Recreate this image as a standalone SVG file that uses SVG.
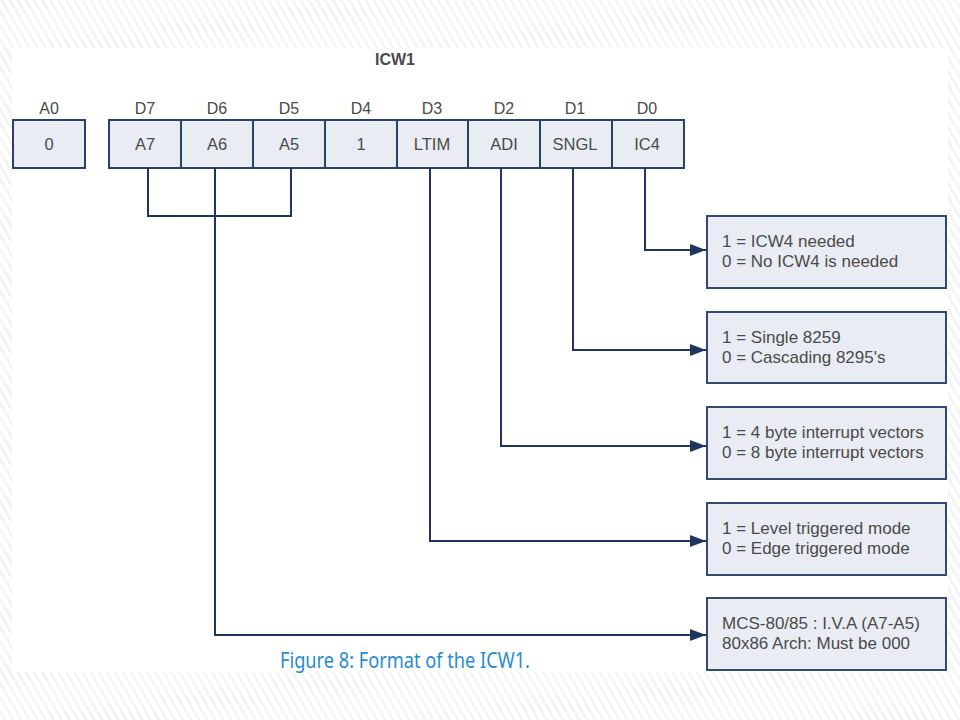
<svg xmlns="http://www.w3.org/2000/svg" width="960" height="720" viewBox="0 0 960 720">
<defs>
<pattern id="hatch" width="7" height="7" patternUnits="userSpaceOnUse" patternTransform="rotate(-30)">
<rect width="7" height="7" fill="#ffffff"/>
<rect width="3" height="7" fill="#f4f4f4"/>
</pattern>
<marker id="arr" markerWidth="16" markerHeight="12" refX="16" refY="6" orient="auto" markerUnits="userSpaceOnUse">
<path d="M0,0 L16,6 L0,12 Z" fill="#1f3560"/>
</marker>
<style>
.cell{fill:#e9edf3;stroke:#2b4066;stroke-width:2}
.box{fill:#e9edf3;stroke:#34496d;stroke-width:2}
.t{font-family:"Liberation Sans",Arial,sans-serif;fill:#4a4a4a}
.ct{font-size:16.5px;text-anchor:middle}
.bt{font-size:17px}
.hd{font-size:16px;text-anchor:middle}
.ln{fill:none;stroke:#1f3560;stroke-width:2}
</style>
</defs>
<rect width="960" height="720" fill="url(#hatch)"/>
<rect x="12" y="48" width="936" height="624" fill="#ffffff"/>

<text x="395" y="65" class="t" font-size="16" font-weight="bold" text-anchor="middle" fill="#333333">ICW1</text>

<g id="cell-a0">
<text x="49" y="114" class="t hd">A0</text>
<rect x="13" y="120" width="72" height="48" class="cell"/>
<text x="49" y="150" class="t ct">0</text>
</g>
<g id="cell-d7">
<text x="145" y="114" class="t hd">D7</text>
<rect x="109" y="120" width="72" height="48" class="cell"/>
<text x="145" y="150" class="t ct">A7</text>
</g>
<g id="cell-d6">
<text x="217" y="114" class="t hd">D6</text>
<rect x="181" y="120" width="72" height="48" class="cell"/>
<text x="217" y="150" class="t ct">A6</text>
</g>
<g id="cell-d5">
<text x="289" y="114" class="t hd">D5</text>
<rect x="253" y="120" width="72" height="48" class="cell"/>
<text x="289" y="150" class="t ct">A5</text>
</g>
<g id="cell-d4">
<text x="361" y="114" class="t hd">D4</text>
<rect x="325" y="120" width="72" height="48" class="cell"/>
<text x="361" y="150" class="t ct">1</text>
</g>
<g id="cell-d3">
<text x="432" y="114" class="t hd">D3</text>
<rect x="397" y="120" width="71" height="48" class="cell"/>
<text x="432" y="150" class="t ct">LTIM</text>
</g>
<g id="cell-d2">
<text x="504" y="114" class="t hd">D2</text>
<rect x="468" y="120" width="72" height="48" class="cell"/>
<text x="504" y="150" class="t ct">ADI</text>
</g>
<g id="cell-d1">
<text x="575" y="114" class="t hd">D1</text>
<rect x="540" y="120" width="72" height="48" class="cell"/>
<text x="575" y="150" class="t ct">SNGL</text>
</g>
<g id="cell-d0">
<text x="647" y="114" class="t hd">D0</text>
<rect x="612" y="120" width="72" height="48" class="cell"/>
<text x="647" y="150" class="t ct">IC4</text>
</g>

<g id="connectors">
<path d="M148,168 V216 H291 V168" class="ln"/>
<path d="M215,168 V635 H706" class="ln" marker-end="url(#arr)"/>
<path d="M430,168 V541 H706" class="ln" marker-end="url(#arr)"/>
<path d="M501,168 V446 H706" class="ln" marker-end="url(#arr)"/>
<path d="M573,168 V350 H706" class="ln" marker-end="url(#arr)"/>
<path d="M645,168 V250 H706" class="ln" marker-end="url(#arr)"/>
</g>

<g id="box-ic4">
<rect x="707" y="216" width="239" height="72" class="box"/>
<text x="722" y="247" class="t bt">1 = ICW4 needed</text>
<text x="722" y="267" class="t bt">0 = No ICW4 is needed</text>
</g>
<g id="box-sngl">
<rect x="707" y="312" width="239" height="71" class="box"/>
<text x="722" y="343" class="t bt">1 = Single 8259</text>
<text x="722" y="363" class="t bt">0 = Cascading 8295's</text>
</g>
<g id="box-adi">
<rect x="707" y="407" width="239" height="72" class="box"/>
<text x="722" y="438" class="t bt">1 = 4 byte interrupt vectors</text>
<text x="722" y="458" class="t bt">0 = 8 byte interrupt vectors</text>
</g>
<g id="box-ltim">
<rect x="707" y="503" width="239" height="72" class="box"/>
<text x="722" y="534" class="t bt">1 = Level triggered mode</text>
<text x="722" y="554" class="t bt">0 = Edge triggered mode</text>
</g>
<g id="box-a">
<rect x="707" y="598" width="239" height="72" class="box"/>
<text x="722" y="629" class="t bt">MCS-80/85 : I.V.A (A7-A5)</text>
<text x="722" y="649" class="t bt">80x86 Arch: Must be 000</text>
</g>

<text x="280" y="668" font-family="'Noto Sans','Open Sans',sans-serif" font-size="21" fill="#2a8bd0" textLength="250" lengthAdjust="spacingAndGlyphs">Figure 8: Format of the ICW1.</text>
</svg>
